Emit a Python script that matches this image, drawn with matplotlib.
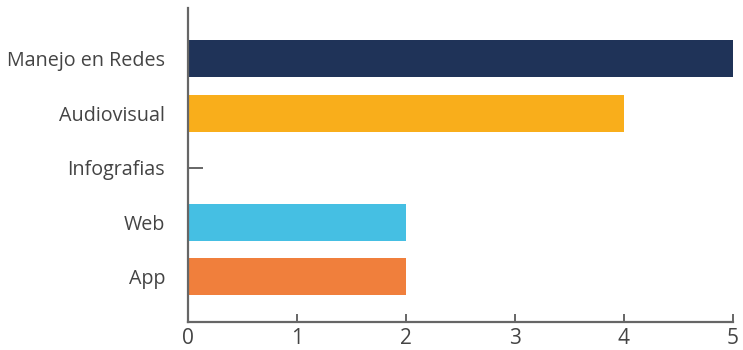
import matplotlib
matplotlib.use("Agg")
import matplotlib.pyplot as plt

categories = ["Manejo en Redes", "Audiovisual", "Infografias", "Web", "App"]
values = [5, 4, 0, 2, 2]
colors = ["#1f3358", "#f9ae1b", "#8a8a8a", "#45bfe3", "#f07f3c"]
xticks = [0, 1, 2, 3, 4, 5]

plt.rcParams['font.family'] = ['Open Sans', 'DejaVu Sans']

fig = plt.figure(figsize=(7.43, 3.5), dpi=100)
ax = fig.add_axes([188/743, 28/350, (733-188)/743, (322-8)/350])

pos = list(range(len(categories)))
ax.barh(pos, values, height=0.68, color=colors)
ax.set_yticks(pos)
ax.set_yticklabels(categories, fontsize=14.2, color="#444444")
ax.set_ylim(4.83, -0.93)
ax.set_xlim(0, 5)
ax.set_xticks(xticks)
ax.set_xticklabels([str(t) for t in xticks], fontsize=15, color="#444444")

for s in ["top", "right"]:
    ax.spines[s].set_visible(False)
for s in ["left", "bottom"]:
    ax.spines[s].set_color("#666666")
    ax.spines[s].set_linewidth(1.6)

ax.tick_params(axis="x", direction="in", length=6, width=1.4, color="#666666", pad=4)
ax.tick_params(axis="y", direction="in", length=11, width=1.4, color="#666666", pad=16.5)
for i, t in enumerate(ax.yaxis.get_major_ticks()):
    if values[i] != 0:
        t.tick1line.set_visible(False)

fig.savefig("out.png", dpi=100)
